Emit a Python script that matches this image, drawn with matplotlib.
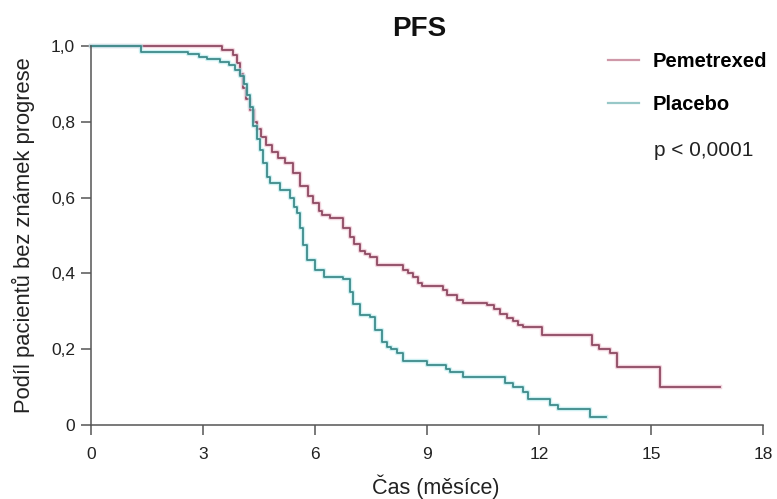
import matplotlib
matplotlib.use("Agg")
import matplotlib.pyplot as plt
from matplotlib.lines import Line2D

plt.rcParams["font.family"] = ["Liberation Sans", "DejaVu Sans"]

# Kaplan-Meier step curves: event times (months) and survival fraction
pem_time = [0, 3.5, 3.8, 3.9, 4.0, 4.07, 4.15, 4.25, 4.37, 4.45, 4.55, 4.7,
            4.85, 5.0, 5.2, 5.4, 5.6, 5.8, 5.95, 6.1, 6.2, 6.4, 6.75, 6.94,
            7.05, 7.2, 7.35, 7.47, 7.66, 8.36, 8.5, 8.62, 8.75, 8.87, 9.43,
            9.55, 9.8, 9.97, 10.6, 10.8, 10.96, 11.15, 11.3, 11.45, 11.57,
            12.08, 13.42, 13.6, 13.9, 14.08, 15.24, 16.85]
pem_surv = [1.0, 0.99, 0.975, 0.955, 0.925, 0.89, 0.86, 0.83, 0.80, 0.78,
            0.76, 0.74, 0.72, 0.705, 0.69, 0.665, 0.63, 0.605, 0.585, 0.565,
            0.555, 0.545, 0.52, 0.496, 0.478, 0.46, 0.45, 0.443, 0.422, 0.41,
            0.40, 0.39, 0.375, 0.368, 0.355, 0.343, 0.33, 0.322, 0.317, 0.305,
            0.293, 0.282, 0.275, 0.265, 0.258, 0.237, 0.211, 0.20, 0.19,
            0.153, 0.10, 0.10]

pla_time = [0, 1.35, 2.6, 2.9, 3.1, 3.45, 3.7, 3.85, 4.0, 4.1, 4.18, 4.25,
            4.34, 4.45, 4.53, 4.62, 4.71, 4.8, 5.06, 5.33, 5.45, 5.52, 5.6,
            5.68, 5.79, 6.0, 6.23, 6.75, 6.95, 7.02, 7.2, 7.47, 7.6, 7.8,
            7.93, 8.05, 8.2, 8.36, 9.0, 9.5, 9.62, 9.97, 11.1, 11.3, 11.57,
            11.7, 12.3, 12.5, 13.37, 13.8]
pla_surv = [1.0, 0.985, 0.978, 0.972, 0.965, 0.958, 0.95, 0.937, 0.92, 0.90,
            0.87, 0.84, 0.79, 0.755, 0.726, 0.69, 0.655, 0.638, 0.62, 0.60,
            0.575, 0.56, 0.52, 0.475, 0.435, 0.41, 0.39, 0.385, 0.35, 0.32,
            0.29, 0.285, 0.25, 0.22, 0.206, 0.20, 0.19, 0.17, 0.158, 0.148,
            0.14, 0.126, 0.112, 0.10, 0.087, 0.068, 0.053, 0.043, 0.021, 0.021]

x_ticks = [0, 3, 6, 9, 12, 15, 18]
y_ticks = [0, 0.2, 0.4, 0.6, 0.8, 1.0]
y_tick_labels = ["0", "0,2", "0,4", "0,6", "0,8", "1,0"]

pem_color, pem_glow, pem_key = "#8e4a62", "#eab8c8", "#cf98a8"
pla_color, pla_glow, pla_key = "#3f8a8a", "#aee8ec", "#98c8c8"
axis_color = "#555555"

fig = plt.figure(figsize=(7.77, 4.99), dpi=100)
ax = fig.add_axes([0.1171, 0.1483, 0.8648, 0.7595])

for t, s, c, g in [(pem_time, pem_surv, pem_color, pem_glow),
                   (pla_time, pla_surv, pla_color, pla_glow)]:
    ax.step(t, s, where="post", color=g, lw=3.2, alpha=0.6, clip_on=False)
    ax.step(t, s, where="post", color=c, lw=1.3, clip_on=False)

ax.set_xlim(0, 18)
ax.set_ylim(0, 1)
ax.set_xticks(x_ticks)
ax.set_yticks(y_ticks)
ax.set_yticklabels(y_tick_labels)
ax.tick_params(length=7.5, width=1.1, color=axis_color, labelsize=12.5,
               labelcolor="#222222", pad=4)
ax.tick_params(axis="x", pad=8)
for side in ["top", "right"]:
    ax.spines[side].set_visible(False)
for side in ["left", "bottom"]:
    ax.spines[side].set_color(axis_color)
    ax.spines[side].set_linewidth(1.1)

ax.set_xlabel("Čas (měsíce)", fontsize=15.5, color="#222222")
ax.xaxis.set_label_coords(0.513, -0.13)
ax.set_ylabel("Podíl pacientů bez známek progrese", fontsize=15.8,
              color="#222222")
ax.yaxis.set_label_coords(-0.084, 0.5)

fig.text(419 / 777, 1 - 29 / 499, "PFS", fontsize=20, fontweight="bold",
         ha="center", va="center", color="#111111")

handles = [Line2D([], [], color=pem_key, lw=1.6),
           Line2D([], [], color=pla_key, lw=1.6)]
ax.legend(handles, ["Pemetrexed", "Placebo"], loc="upper left",
          bbox_to_anchor=(608 / 777, 1 - 52 / 499),
          bbox_transform=fig.transFigure, frameon=False,
          prop={"weight": "bold", "size": 14.5}, handlelength=1.55,
          handletextpad=0.65, labelspacing=1.2, borderpad=0,
          borderaxespad=0)
fig.text(654 / 777, 1 - 150 / 499, "p < 0,0001", fontsize=15,
         ha="left", va="center", color="#222222")

fig.savefig("out.png", dpi=100)
